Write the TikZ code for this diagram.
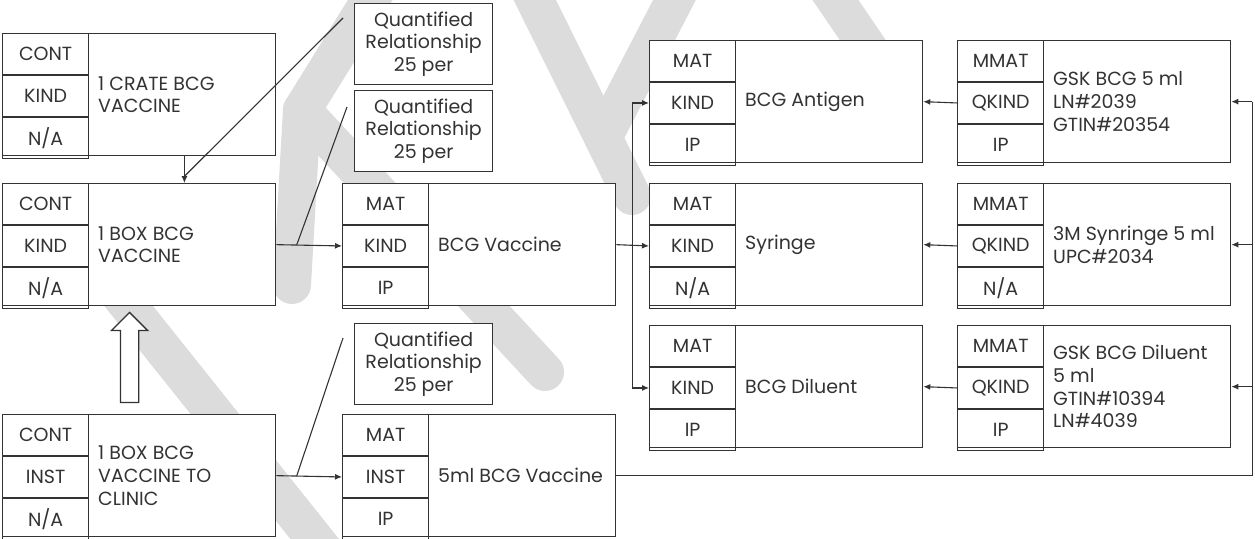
\documentclass[tikz,border=0pt]{standalone}
\usepackage{fontspec}
\setmainfont{Poppins}
\usetikzlibrary{arrows.meta,calc,shapes.arrows}

\definecolor{ink}{HTML}{333333}
\definecolor{mark}{HTML}{DCDCDC}

\tikzset{
  body/.style={draw=ink, fill=white, line width=1.3pt, minimum width=273pt, minimum height=122pt, inner sep=0pt},
  tagcell/.style={draw=ink, line width=1.3pt, minimum width=86pt, minimum height=40.67pt, inner sep=0pt, text=ink},
  bodytext/.style={align=left, text=ink, inner sep=0pt, anchor=west},
  qbox/.style={draw=ink, fill=white, line width=1.3pt, minimum width=138pt, minimum height=81pt, inner sep=0pt, align=center, text=ink},
  link/.style={draw=ink, line width=1.1pt},
  lift/.style={single arrow, draw=ink, fill=white, line width=1.3pt, minimum height=90pt, minimum width=35pt,
    inner xsep=0pt, inner ysep=8.5pt, single arrow head extend=9pt, rotate=90},
  stroke/.style={draw=mark, line width=38pt, line cap=round, line join=round}
}

\begin{document}
\begin{tikzpicture}[x=1pt,y=-1pt,every path/.style={>={Latex[length=7pt,width=6pt]}},
  font=\fontsize{19}{22.7}\selectfont]
  \useasboundingbox (0,0) rectangle (1255,538);

  % faint strokes behind everything
  \begin{scope}
    \clip (0,0) rectangle (1255,538);
    \draw[stroke] (60,220) -- (345,577);
    \draw[stroke] (395,-40) -- (302,110) -- (545,372);
    \draw[stroke] (302,110) -- (292,285);
    \draw[stroke] (505,-60) -- (632,196);
    \draw[stroke] (690,-30) -- (606,132);
    \draw[stroke] (815,-30) -- (890,80);
  \end{scope}

  % record boxes: name/left/top/three tags/label
  \foreach \n/\x/\y/\ta/\tb/\tc/\txt in {
    crate/2/33/CONT/KIND/{N/A}/{1 CRATE BCG\\VACCINE},
    box/2/183/CONT/KIND/{N/A}/{1 BOX BCG\\VACCINE},
    clinic/2/414/CONT/INST/{N/A}/{1 BOX BCG\\VACCINE TO\\CLINIC},
    vac/342/183/MAT/KIND/IP/{BCG Vaccine},
    ml/342/414/MAT/INST/IP/{5ml BCG Vaccine},
    ant/649/40/MAT/KIND/IP/{BCG Antigen},
    syr/649/183/MAT/KIND/{N/A}/{Syringe},
    dil/649/325/MAT/KIND/IP/{BCG Diluent},
    gsk/957/40/MMAT/QKIND/IP/{GSK BCG 5 ml\\LN\#2039\\GTIN\#20354},
    mmm/957/183/MMAT/QKIND/{N/A}/{3M Synringe 5 ml\\UPC\#2034},
    gdl/957/325/MMAT/QKIND/IP/{GSK BCG Diluent\\5 ml\\GTIN\#10394\\LN\#4039}}
  {
    \node[body, anchor=north west] (\n) at (\x,\y) {};
    \node[tagcell, anchor=north west] (\n-a) at (\n.north west) {\ta};
    \node[tagcell, anchor=north] (\n-b) at (\n-a.south) {\tb};
    \node[tagcell, anchor=north] (\n-c) at (\n-b.south) {\tc};
    \node[bodytext] (\n-t) at ($(\n.west)+(96,0)$) {\txt};
  }

  % quantity notes
  \node[qbox, anchor=north west] (q1) at (354,3) {Quantified\\Relationship\\25 per};
  \node[qbox, anchor=north west] (q2) at (354,90) {Quantified\\Relationship\\25 per};
  \node[qbox, anchor=north west] (q3) at (354,323) {Quantified\\Relationship\\25 per};
  \coordinate (q1-tail) at ($(q1.north west)+(-11,15)$);
  \coordinate (q2-tail) at ($(q2.north west)+(-7,17)$);
  \coordinate (q3-tail) at ($(q3.north west)+(-11,15)$);

  % crate down to box
  \coordinate (drop) at ($(crate.south west)!.665!(crate.south east)$);
  \coordinate (catch) at ($(box.north west)!.665!(box.north east)$);
  \draw[link,->] (drop) -- (catch);
  \draw[link] (q1-tail) -- ($(drop)!.75!(catch)$);

  % box and clinic into the material boxes
  \draw[link,->] (box.east) -- (vac-b.west);
  \draw[link] (q2-tail) -- ($(box.east)!.31!(vac-b.west)$);
  \draw[link,->] (clinic.east) -- (ml-b.west);
  \draw[link] (q3-tail) -- ($(clinic.east)!.31!(ml-b.west)$);

  % hollow arrow from clinic up to box
  \node[lift] (lift) at ($(clinic.north west)!.465!(clinic.north east)+(0,-52)$) {};

  % vaccine splits into its parts
  \draw[link,->] (vac.east) -- (syr-b.west);
  \coordinate (split) at ($(vac.east)!.5!(syr-b.west)$);
  \draw[link,->] (split) |- (ant-b.west);
  \draw[link,->] (split) |- (dil-b.west);

  % manufactured items back to kinds
  \foreach \s/\d in {gsk/ant,mmm/syr,gdl/dil}
    \draw[link,->] (\s-b.west) -- (\d.east);

  % rail from the 5ml vaccine round the right side
  \coordinate (rail) at ($(gsk.east)+(21,0)$);
  \draw[link] (ml.east) -| (rail);
  \foreach \m in {gsk,mmm,gdl}
    \draw[link,->] (rail |- \m.east) -- (\m.east);
\end{tikzpicture}
\end{document}
